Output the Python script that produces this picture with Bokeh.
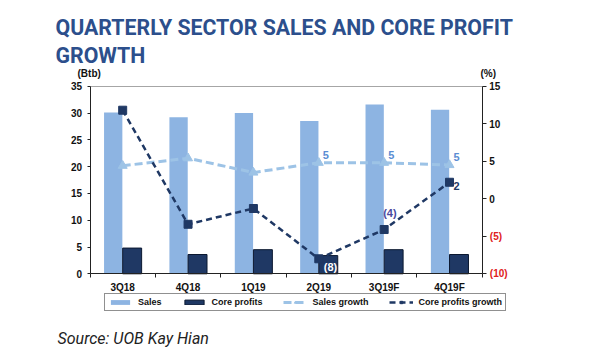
import numpy as np
from bokeh.plotting import figure
from bokeh.models import (ColumnDataSource, Range1d, LinearAxis, FixedTicker,
                          Legend, LegendItem, Label, LabelSet)
from bokeh.core.properties import value
from bokeh.embed import file_html
from bokeh.resources import INLINE

# ---------------- data ----------------
quarters = ["3Q18", "4Q18", "1Q19", "2Q19", "3Q19F", "4Q19F"]
sales = [30.1, 29.2, 30.0, 28.5, 31.6, 30.6]              # Btb
core_profits = [4.8, 3.6, 4.5, 3.4, 4.5, 3.6]             # Btb
sales_growth = [4.4, 5.4, 3.5, 4.8, 4.8, 4.5]             # %
core_profits_growth = [11.8, -3.4, -1.3, -8.0, -4.1, 2.2]  # %
sales_growth_labels = ["", "", "", "5", "5", "5"]
core_growth_labels = ["", "", "", "(8)", "(4)", "2"]
left_ticks = [0, 5, 10, 15, 20, 25, 30, 35]
right_pos_ticks = [0, 5, 10, 15]
right_neg_ticks = [-10, -5]
right_neg_labels = ["(10)", "(5)"]
LEFT_MIN, LEFT_MAX = 0, 35
RIGHT_MIN, RIGHT_MAX = -10, 15

# ---------------- layout (canvas pixels) ----------------
W, H = 600, 360
PL, PR, PT, PB = 89.5, 481.7, 85.7, 273.3   # plot-area edges on the canvas
n = len(quarters)


def span_range(lo, hi, p_lo, p_hi, size):
    k = (hi - lo) / (p_hi - p_lo)
    return Range1d(lo - p_lo * k, hi + (size - p_hi) * k)


FONT = "Liberation Sans"
TFONT = "Roboto"
C_SALES = "#8db4e2"
C_CORE = "#1f3864"
C_SGROW = "#9dc3e6"
C_TITLE = "#2c4f8c"
C_AXIS = "#222222"

idx = np.arange(n) + 0.5
src = ColumnDataSource(dict(
    x=idx, xs=idx - 0.145, xc=idx + 0.145,
    sales=sales, core=core_profits,
    sg=sales_growth, cg=core_profits_growth,
    sgl=sales_growth_labels, cgl=core_growth_labels,
))

p = figure(width=W, height=H, output_backend="svg", toolbar_location=None,
           title=None, min_border=0,
           x_range=span_range(0, n, PL, PR, W),
           y_range=span_range(LEFT_MIN, LEFT_MAX, H - PB, H - PT, H))
p.extra_y_ranges = {"pct": span_range(RIGHT_MIN, RIGHT_MAX, H - PB, H - PT, H)}
p.background_fill_color = "white"
p.border_fill_color = "white"
p.outline_line_color = None
p.grid.visible = False

# bars
r_sales = p.vbar(x="xs", top="sales", width=0.28, source=src,
                 fill_color=C_SALES, line_color=None)
r_core = p.vbar(x="xc", top="core", width=0.29, source=src,
                fill_color=C_CORE, line_color="#0b1830", line_width=1)

# lines
r_sg_line = p.line(x="x", y="sg", source=src, y_range_name="pct",
                   line_color=C_SGROW, line_width=3, line_dash="8 4")
r_sg_pts = p.scatter(x="x", y="sg", source=src, y_range_name="pct",
                     marker="triangle", size=9, fill_color=C_SGROW,
                     line_color=C_SGROW)
r_cg_line = p.line(x="x", y="cg", source=src, y_range_name="pct",
                   line_color=C_CORE, line_width=2.5, line_dash="6 4")
r_cg_pts = p.scatter(x="x", y="cg", source=src, y_range_name="pct",
                     marker="square", size=8, fill_color=C_CORE,
                     line_color=C_CORE)

# data labels
p.text(x="x", y="sg", text="sgl", source=src, y_range_name="pct",
       x_offset=4, y_offset=-4, text_font=value(FONT), text_font_style="bold",
       text_font_size="11px", text_color="#5b8dd3", text_baseline="bottom")
lab_src = ColumnDataSource(dict(
    x=idx[3:], y=core_profits_growth[3:], t=core_growth_labels[3:],
    dx=[5, -1, 4], dy=[8, -17, 4],
    col=["white", "#4a4aa0", C_CORE],
))
p.text(x="x", y="y", text="t", source=lab_src, y_range_name="pct",
       x_offset="dx", y_offset="dy", text_font=value(FONT),
       text_font_style="bold", text_font_size="11px", text_color="col",
       text_baseline="middle", text_align="left")

# axes (drawn at fixed data locations)
def style_axis(a):
    a.axis_line_color = C_AXIS
    a.major_tick_line_color = C_AXIS
    a.minor_tick_line_color = C_AXIS
    a.major_label_text_font = FONT
    a.major_label_text_font_style = "bold"
    a.major_label_text_font_size = "10px"
    a.major_label_text_color = "#111111"
    a.major_tick_in = 0
    a.minor_tick_in = 0

ax = p.xaxis[0]
style_axis(ax)
ax.fixed_location = LEFT_MIN
ax.bounds = (0, n)
ax.ticker = FixedTicker(ticks=list(idx), minor_ticks=list(range(n + 1)))
ax.major_label_overrides = {float(v): q for v, q in zip(idx, quarters)}
ax.major_tick_line_color = None
ax.minor_tick_out = 4
ax.major_label_standoff = 2

ay = p.yaxis[0]
style_axis(ay)
ay.fixed_location = 0
ay.bounds = (LEFT_MIN, LEFT_MAX)
ay.ticker = FixedTicker(ticks=left_ticks)
ay.major_tick_out = 3
ay.minor_tick_line_color = None
ay.major_label_standoff = 5

ar = LinearAxis(y_range_name="pct",
                ticker=FixedTicker(ticks=right_pos_ticks, minor_ticks=right_neg_ticks))
style_axis(ar)
ar.fixed_location = n
ar.bounds = (RIGHT_MIN, RIGHT_MAX)
ar.major_tick_out = 4
ar.minor_tick_out = 4
ar.major_label_standoff = 3
p.add_layout(ar, "right")

top = LinearAxis(ticker=FixedTicker(ticks=[]))
top.fixed_location = LEFT_MAX
top.bounds = (0, n)
top.axis_line_color = "#a6a6a6"
top.major_tick_line_color = None
top.minor_tick_line_color = None
p.add_layout(top, "above")

neg_src = ColumnDataSource(dict(x=[PR + 7.6] * 2, y=right_neg_ticks, t=right_neg_labels))
p.add_layout(LabelSet(x="x", y="y", text="t", source=neg_src, x_units="screen",
                      y_range_name="pct", text_font=value(FONT),
                      text_font_style="bold", text_font_size="10px",
                      text_color="#e02020", text_baseline="middle",
                      text_align="left"))

# unit labels
for txt, xx in [("(Btb)", 88.7), ("(%)", 487.8)]:
    p.add_layout(Label(x=xx, y=H - 73, x_units="screen", y_units="screen", text=txt,
                       text_font=FONT, text_font_style="bold",
                       text_font_size="10px", text_color="#111111",
                       text_align="center", text_baseline="alphabetic"))

# title and source
for txt, yy in [("QUARTERLY SECTOR SALES AND CORE PROFIT", H - 26.5), ("GROWTH", H - 55)]:
    p.add_layout(Label(x=55, y=yy, x_units="screen", y_units="screen", text=txt,
                       text_font=TFONT, text_font_style="bold",
                       text_font_size="21.3px", text_color=C_TITLE,
                       text_baseline="alphabetic"))
p.add_layout(Label(x=57, y=H - 338, x_units="screen", y_units="screen",
                   text="Source: UOB Kay Hian", text_font=TFONT,
                   text_font_style="italic", text_font_size="16px",
                   text_color="#222222", text_baseline="alphabetic"))

# legend
legend = Legend(items=[
    LegendItem(label="Sales", renderers=[r_sales]),
    LegendItem(label="Core profits", renderers=[r_core]),
    LegendItem(label="Sales growth", renderers=[r_sg_line, r_sg_pts]),
    LegendItem(label="Core profits growth", renderers=[r_cg_line, r_cg_pts]),
], orientation="horizontal", location=(104, H - 311), margin=0, padding=3,
    spacing=20, glyph_width=24, glyph_height=6, label_height=10,
    label_standoff=6, label_text_font=FONT, label_text_font_style="bold",
    label_text_font_size="9px", label_text_color="#111111",
    border_line_color=C_AXIS, border_line_width=1,
    background_fill_color="white", background_fill_alpha=1)
p.add_layout(legend, "center")

open("out.html", "w").write(file_html(p, INLINE))
